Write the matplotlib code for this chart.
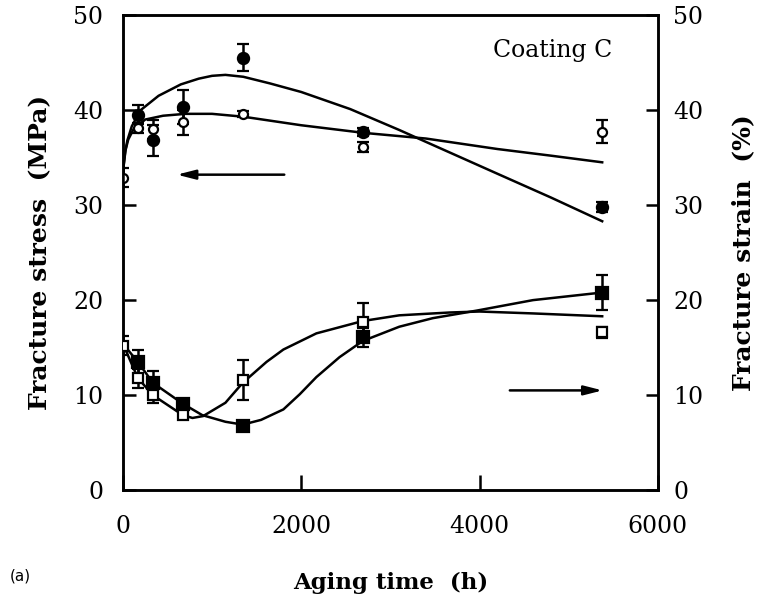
import matplotlib.pyplot as plt
import numpy as np

plt.rcParams['font.family'] = 'DejaVu Serif'

# aging times of the measured points (h)
times = [0, 168, 336, 672, 1344, 2688, 5376]

# fracture stress (MPa)
stress_filled = [None, 39.5, 36.8, 40.3, 45.5, 37.7, 29.8]
stress_filled_err = [None, 1.0, 1.6, 1.8, 1.4, 0.4, 0.5]
stress_open = [32.9, 38.1, 38.0, 38.7, 39.6, 36.1, 37.7]
stress_open_err = [1.0, 0.5, 1.0, 1.3, 0.3, 0.5, 1.2]

# fracture strain (%)
strain_filled = [None, 13.5, 11.3, 9.1, 6.8, 16.1, 20.8]
strain_filled_err = [None, 1.3, 1.2, 0.5, 0.3, 1.0, 1.8]
strain_open = [15.2, 11.8, 10.0, 7.9, 11.6, 17.7, 16.6]
strain_open_err = [1.0, 1.0, 0.8, 0.3, 2.1, 2.0, 0.6]

# fitted trend curves
fit_stress_filled_t = [0, 10, 25, 50, 100, 200, 400, 650, 850, 1000, 1150,
                       1350, 1650, 2000, 2550, 3100, 3650, 4200, 4800, 5376]
fit_stress_filled_v = [32.9, 34.3, 35.6, 36.8, 38.3, 40.0, 41.5, 42.7, 43.3,
                       43.6, 43.7, 43.5, 42.8, 41.9, 40.1, 37.9, 35.6, 33.3,
                       30.8, 28.3]
fit_stress_open_t = [0, 10, 30, 60, 120, 250, 450, 700, 1000, 1350, 2000,
                     2700, 3400, 4200, 4800, 5376]
fit_stress_open_v = [32.9, 34.3, 35.8, 36.9, 38.0, 39.0, 39.4, 39.6, 39.6,
                     39.3, 38.4, 37.6, 37.0, 35.9, 35.2, 34.5]
fit_strain_filled_t = [0, 168, 336, 672, 890, 1150, 1344, 1550, 1800, 1984,
                       2170, 2430, 2690, 3100, 3475, 3970, 4600, 5376]
fit_strain_filled_v = [15.4, 13.5, 11.3, 9.1, 7.9, 7.2, 6.9, 7.4, 8.5, 10.1,
                       11.9, 14.0, 15.7, 17.2, 18.1, 18.9, 20.0, 20.8]
fit_strain_open_t = [0, 168, 336, 672, 780, 900, 1150, 1344, 1611, 1800, 2170,
                     2690, 3100, 3670, 4000, 4600, 5376]
fit_strain_open_v = [15.4, 11.8, 10.0, 7.9, 7.6, 7.8, 9.2, 11.3, 13.5, 14.8,
                     16.5, 17.8, 18.4, 18.7, 18.8, 18.6, 18.3]


def pts(vals, errs):
    t = [x for x, v in zip(times, vals) if v is not None]
    v = [v for v in vals if v is not None]
    e = [e for e in errs if e is not None]
    return t, v, e


fig = plt.figure(figsize=(7.73, 6.0), dpi=100)
ax = fig.add_axes([0.159, 0.183, 0.692, 0.792])
ax2 = ax.twinx()

lw = 1.8
ax.plot(fit_stress_filled_t, fit_stress_filled_v, color='black', lw=lw)
ax.plot(fit_stress_open_t, fit_stress_open_v, color='black', lw=lw)
ax2.plot(fit_strain_filled_t, fit_strain_filled_v, color='black', lw=lw)
ax2.plot(fit_strain_open_t, fit_strain_open_v, color='black', lw=lw)

eb = dict(ls='none', ecolor='black', elinewidth=1.8, capsize=4.5,
          capthick=2, mec='black', mew=1.6, zorder=3)
t, v, e = pts(stress_filled, stress_filled_err)
ax.errorbar(t, v, yerr=e, fmt='o', ms=8, mfc='black', **eb)
t, v, e = pts(stress_open, stress_open_err)
ax.errorbar(t, v, yerr=e, fmt='o', ms=6.5, mfc='white', **eb)
t, v, e = pts(strain_filled, strain_filled_err)
ax2.errorbar(t, v, yerr=e, fmt='s', ms=8.5, mfc='black', **eb)
t, v, e = pts(strain_open, strain_open_err)
ax2.errorbar(t, v, yerr=e, fmt='s', ms=7.5, mfc='white', **eb)

# arrows pointing to the axis each group belongs to
arrow = dict(arrowstyle='-|>,head_length=1.1,head_width=0.28', lw=1.8,
             color='black', shrinkA=0, shrinkB=0)
ax.annotate('', xy=(605, 33.2), xytext=(1810, 33.2), arrowprops=arrow)
ax.annotate('', xy=(5380, 10.5), xytext=(4340, 10.5), arrowprops=arrow)

ax.text(5493, 46.3, 'Coating C', ha='right', va='center', fontsize=17)

for a in (ax, ax2):
    a.set_xlim(0, 6000)
    a.set_ylim(0, 50)
    a.set_yticks(np.arange(0, 51, 10))
    for s in a.spines.values():
        s.set_linewidth(1.8)
ax.set_xticks([0, 2000, 4000, 6000])
ax.tick_params(axis='both', direction='in', width=1.8, labelsize=17)
ax.tick_params(axis='y', length=9, pad=14)
ax.tick_params(axis='x', length=11, pad=18)
ax2.tick_params(axis='y', direction='in', length=9, width=1.8,
                labelsize=17, pad=11)

ax.set_ylabel('Fracture stress  (MPa)', fontsize=18, fontweight='bold',
              labelpad=15)
ax2.set_ylabel('Fracture strain  (%)', fontsize=18, fontweight='bold',
               labelpad=20)
ax.set_xlabel('Aging time  (h)', fontsize=16.5, fontweight='bold',
              labelpad=24)

fig.text(0.012, 0.032, '(a)', fontsize=11, family='DejaVu Sans')

fig.savefig('out.png', dpi=100)
